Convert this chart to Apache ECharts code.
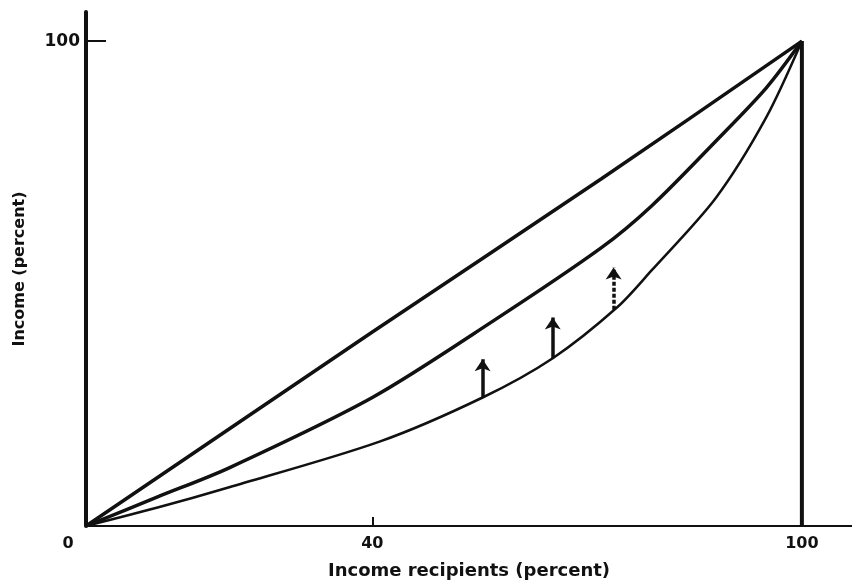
<!DOCTYPE html>
<html>
<head>
<meta charset="utf-8">
<script src="https://cdn.jsdelivr.net/npm/echarts@6/dist/echarts.min.js"></script>
<style>
  html, body { margin: 0; padding: 0; background: #fff; }
  #chart { width: 852px; height: 584px; }
</style>
</head>
<body>
<div id="chart"></div>
<script>
// values (percent of recipients, percent of income)
var equalityCurve = [[0, 0], [40, 40], [72, 71.6], [100, 100]]
var middleCurve = [[0, 0], [10, 6.0], [20, 12.0], [40, 26.5], [57, 42.4], [72, 57.4], [79, 66.0], [88, 79.4], [95, 90.3], [100, 100]]
var lowerCurve = [[0, 0], [10, 3.8], [20, 8.0], [41, 17.4], [55.4, 26.5], [65.2, 34.6], [74.2, 45.1], [79, 52.7], [88, 67.7], [95, 84.2], [100, 100]]
var rightEdge = [[100, 0], [100, 100]]
// arrows: [x, from, to]
var shiftArrows = [[55.4, 26.5, 34.4], [65.2, 34.6, 43.0], [73.7, 44.6, 53.3]]
var xTickLabels = [0, 40, 100]
var xTicks = [40]
var yTickLabels = [100]

var font = 'DejaVu Sans'
var ink = '#111'

function curve (data, width) {
  return {
    type: 'line',
    data: data,
    smooth: 0.3,
    showSymbol: false,
    lineStyle: { color: ink, width: width }
  }
}

var arrowData = shiftArrows.map(function (a, i) {
  return {
    coords: [[a[0], a[1]], [a[0], a[2]]],
    lineStyle: { type: i === 2 ? [4, 2] : 'solid' }
  }
})

var chart = echarts.init(document.getElementById('chart'))
var option = {
  animation: false,
  backgroundColor: '#fff',
  grid: {
    left: 86,
    right: 0,
    top: 12,
    bottom: 58,
    outerBoundsMode: 'none'
  },
  xAxis: {
    type: 'value',
    min: 0,
    max: 107,
    name: 'Income recipients (percent)',
    nameLocation: 'middle',
    nameGap: 36,
    nameTextStyle: { fontFamily: font, fontWeight: 'bold', fontSize: 18, color: ink },
    axisLine: { lineStyle: { color: ink, width: 2 } },
    axisTick: { show: true, inside: true, length: 9, customValues: xTicks, lineStyle: { color: ink, width: 2 } },
    splitLine: { show: false },
    axisLabel: {
      customValues: xTickLabels,
      margin: 10,
      fontFamily: font,
      fontWeight: 'bold',
      fontSize: 16,
      color: ink,
      formatter: function (v) {
        return v === 0 ? '{z|0}' : String(v)
      },
      rich: {
        z: { fontFamily: font, fontWeight: 'bold', fontSize: 16, color: ink, padding: [0, 36, 6, 0] }
      }
    }
  },
  yAxis: {
    type: 'value',
    min: 0,
    max: 106,
    name: 'Income (percent)',
    nameLocation: 'middle',
    nameGap: 58,
    nameTextStyle: { fontFamily: font, fontWeight: 'bold', fontSize: 16, color: ink },
    axisLine: { show: true, lineStyle: { color: ink, width: 4 } },
    axisTick: { show: true, inside: true, length: 20, customValues: yTickLabels, lineStyle: { color: ink, width: 2 } },
    splitLine: { show: false },
    axisLabel: {
      customValues: yTickLabels,
      margin: 6,
      fontFamily: font,
      fontWeight: 'bold',
      fontSize: 17,
      color: ink
    }
  },
  series: [
    curve(equalityCurve, 3.5),
    curve(middleCurve, 3.5),
    curve(lowerCurve, 2.5),
    {
      type: 'line',
      data: rightEdge,
      showSymbol: false,
      lineStyle: { color: ink, width: 4 }
    },
    {
      type: 'lines',
      coordinateSystem: 'cartesian2d',
      symbol: ['none', 'arrow'],
      symbolSize: [9, 12],
      lineStyle: { color: ink, width: 3.5, opacity: 1 },
      data: arrowData
    }
  ]
}
chart.setOption(option)
</script>
</body>
</html>
